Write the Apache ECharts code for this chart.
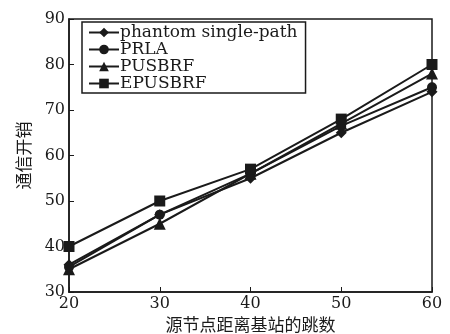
<!DOCTYPE html>
<html>
<head>
<meta charset="utf-8">
<script src="https://cdn.jsdelivr.net/npm/echarts@6/dist/echarts.min.js"></script>
<style>
  html, body { margin: 0; padding: 0; background: #fff; }
  #chart { width: 450px; height: 334px; }
</style>
</head>
<body>
<div id="chart"></div>
<script>
// 横轴：源节点距离基站的跳数
const hops = [20, 30, 40, 50, 60]
// 各方案的通信开销
const phantom = [36, 47, 55, 65, 74]
const prla = [35.5, 47, 56, 66.5, 75]
const pusbrf = [35, 45, 56, 67, 78]
const epusbrf = [40, 50, 57, 68, 80]
const yTicks = [30, 40, 50, 60, 70, 80, 90]

const serif = '"DejaVu Serif", "Liberation Serif", "Noto Sans CJK SC", serif'
const ink = '#1a1a1a'

function pairs (vals) {
    return hops.map((h, i) => [h, vals[i]])
}

function mkSeries (name, vals, symbol, size) {
    return {
        name: name,
        type: 'line',
        data: pairs(vals),
        symbol: symbol,
        symbolSize: size,
        lineStyle: { color: ink, width: 2 },
        itemStyle: { color: ink },
        emphasis: { disabled: true }
    }
}

let myChart = echarts.init(document.getElementById('chart'))
myChart.setOption({
    animation: false,
    grid: { // 绘图区
        left: 69,
        right: 18,
        top: 19,
        bottom: 42,
        outerBoundsMode: 'none',
        show: true,
        borderColor: ink,
        borderWidth: 1.5
    },
    legend: {
        orient: 'vertical',
        left: 82,
        top: 22,
        itemWidth: 30,
        itemHeight: 12,
        itemGap: 0,
        padding: [2, 8, 1, 6],
        borderColor: ink,
        borderWidth: 1.5,
        textStyle: { fontFamily: serif, fontSize: 17, lineHeight: 16, color: ink, padding: [0, 0, 0, -4] },
        data: ['phantom single-path', 'PRLA', 'PUSBRF', 'EPUSBRF']
    },
    xAxis: {
        type: 'value',
        min: 20,
        max: 60,
        interval: 10,
        name: '源节点距离基站的跳数',
        nameLocation: 'middle',
        nameGap: 26,
        nameTextStyle: { fontFamily: serif, fontSize: 17, color: ink },
        axisLine: { lineStyle: { color: ink, width: 1.5 } },
        axisTick: { inside: true, length: 5, lineStyle: { color: ink } },
        axisLabel: { fontFamily: serif, fontSize: 16, color: ink, margin: 4 },
        splitLine: { show: false }
    },
    yAxis: {
        type: 'value',
        min: yTicks[0],
        max: yTicks[yTicks.length - 1],
        interval: 10,
        name: '通信开销',
        nameLocation: 'middle',
        nameGap: 34,
        nameTextStyle: { fontFamily: serif, fontSize: 17, color: ink },
        axisLine: { show: true, lineStyle: { color: ink, width: 1.5 } },
        axisTick: { show: true, inside: true, length: 5, lineStyle: { color: ink } },
        axisLabel: { fontFamily: serif, fontSize: 16, color: ink, margin: 4 },
        splitLine: { show: false }
    },
    series: [
        mkSeries('phantom single-path', phantom, 'diamond', 11),
        mkSeries('PRLA', prla, 'circle', 10),
        mkSeries('PUSBRF', pusbrf, 'triangle', 12),
        mkSeries('EPUSBRF', epusbrf, 'rect', 11)
    ]
})
</script>
</body>
</html>
